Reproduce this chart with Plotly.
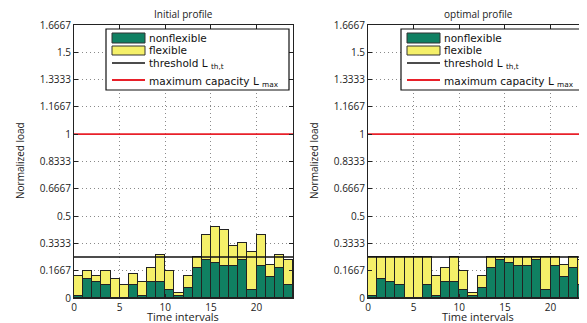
import plotly.graph_objects as go
from plotly.subplots import make_subplots

intervals = list(range(24))
nonflex = [0.014, 0.116, 0.098, 0.080, 0.0, 0.0, 0.080, 0.014, 0.098, 0.098, 0.049, 0.012,
           0.063, 0.182, 0.235, 0.214, 0.198, 0.198, 0.235, 0.049, 0.198, 0.131, 0.182, 0.082]
total_initial = [0.135, 0.165, 0.133, 0.165, 0.116, 0.082, 0.149, 0.098, 0.182, 0.265, 0.165, 0.033,
                 0.133, 0.25, 0.384, 0.433, 0.416, 0.316, 0.333, 0.282, 0.384, 0.200, 0.265, 0.233]
total_optimal = [0.25, 0.25, 0.25, 0.25, 0.25, 0.25, 0.25, 0.133, 0.182, 0.25, 0.165, 0.033,
                 0.133, 0.25, 0.25, 0.25, 0.25, 0.25, 0.25, 0.25, 0.25, 0.200, 0.25, 0.233]
flex_initial = [round(t - n, 4) for t, n in zip(total_initial, nonflex)]
flex_optimal = [round(t - n, 4) for t, n in zip(total_optimal, nonflex)]
threshold = 0.25
capacity = 1.0
ytick_vals = [0, 0.1667, 0.3333, 0.5, 0.6667, 0.8333, 1, 1.1667, 1.3333, 1.5, 1.6667]
ytick_text = ["0", "0.1667", "0.3333", "0.5", "0.6667", "0.8333", "1", "1.1667", "1.3333", "1.5", "1.6667"]
xtick_vals = [0, 5, 10, 15, 20]
titles = ["Initial profile", "optimal profile"]
legend_labels = ["nonflexible", "flexible", "threshold L <sub>th,t</sub>", "maximum capacity L <sub>max</sub>"]

GREEN = "rgb(16,128,98)"
YELLOW = "rgb(245,240,105)"
RED = "#e8202a"
FONT = "Open Sans"
LFONT = "DejaVu Sans"
OFF = 8  # page body margin offset
W, H = 587, 323
# desired screen plot area: x 74..587, y 25..298
ML, MT = 74 - OFF, 25 - OFF
MR = W - (587 - OFF)
MB = H - (298 - OFF)
PW, PH = W - ML - MR, H - MT - MB


def px(xs_):
    return (xs_ - OFF - ML) / PW


def py(ys_):
    return (H - MB - (ys_ - OFF)) / PH


fig = make_subplots(rows=1, cols=2, horizontal_spacing=0.1462)
xs = [i + 0.5 for i in intervals]
n = len(intervals)

for col, flex in [(1, flex_initial), (2, flex_optimal)]:
    fig.add_trace(go.Bar(x=xs, y=nonflex, width=1, name=legend_labels[0],
                         marker=dict(color=GREEN, line=dict(color="#222", width=1))), row=1, col=col)
    fig.add_trace(go.Bar(x=xs, y=flex, width=1, name=legend_labels[1],
                         marker=dict(color=YELLOW, line=dict(color="#222", width=1))), row=1, col=col)
    fig.add_trace(go.Scatter(x=[0, n], y=[threshold, threshold], mode="lines", name=legend_labels[2],
                             line=dict(color="#111", width=1.5)), row=1, col=col)
    fig.add_trace(go.Scatter(x=[0, n], y=[capacity, capacity], mode="lines", name=legend_labels[3],
                             line=dict(color=RED, width=1.8)), row=1, col=col)

axis_common = dict(showline=True, linecolor="#222", linewidth=1, mirror="ticks",
                   ticks="inside", ticklen=4, tickcolor="#222", showgrid=True,
                   gridcolor="#8a8a8a", griddash="1px,3px", gridwidth=1, zeroline=False,
                   automargin=False, tickfont=dict(family=FONT, size=10, color="#222"))

for col in (1, 2):
    fig.update_xaxes(range=[0, n], tickvals=xtick_vals, row=1, col=col, **axis_common)
    fig.update_yaxes(range=[0, 1.6667], tickvals=ytick_vals, ticktext=ytick_text,
                     row=1, col=col, **axis_common)

fig.update_xaxes(domain=[0, px(293)], row=1, col=1)
fig.update_xaxes(domain=[px(368), 1.0], row=1, col=2)

anns = []
shapes = []
for t, xc_title, xc_xlab, x_ylab, leg_left, leg_w in [
        (titles[0], 183, 183, 20, 106, 183),
        (titles[1], 478, 478, 314, 401, 181)]:
    anns.append(dict(text=t, x=px(xc_title), y=py(14), xref="paper", yref="paper",
                     xanchor="center", yanchor="middle",
                     showarrow=False, font=dict(family=FONT, size=10, color="#222")))
    anns.append(dict(text="Time intervals", x=px(xc_xlab), y=py(316.5), xref="paper", yref="paper",
                     xanchor="center", yanchor="middle",
                     showarrow=False, font=dict(family=FONT, size=11, color="#222")))
    anns.append(dict(text="Normalized load", x=px(x_ylab), y=py(161), xref="paper", yref="paper",
                     xanchor="center", yanchor="middle",
                     textangle=-90, showarrow=False,
                     font=dict(family=FONT, size=10, color="#222")))
    T = 29
    L = leg_left
    shapes.append(dict(type="rect", xref="paper", yref="paper", x0=px(L), x1=px(L + leg_w),
                       y0=py(T), y1=py(T + 61), fillcolor="white",
                       line=dict(color="#111", width=1.2), layer="above"))
    shapes.append(dict(type="rect", xref="paper", yref="paper", x0=px(L + 6), x1=px(L + 39),
                       y0=py(T + 4), y1=py(T + 14), fillcolor=GREEN,
                       line=dict(color="#333", width=1), layer="above"))
    shapes.append(dict(type="rect", xref="paper", yref="paper", x0=px(L + 6), x1=px(L + 39),
                       y0=py(T + 17), y1=py(T + 26), fillcolor=YELLOW,
                       line=dict(color="#333", width=1), layer="above"))
    shapes.append(dict(type="line", xref="paper", yref="paper", x0=px(L + 6), x1=px(L + 39),
                       y0=py(T + 34), y1=py(T + 34), line=dict(color="#111", width=1.5),
                       layer="above"))
    shapes.append(dict(type="line", xref="paper", yref="paper", x0=px(L + 6), x1=px(L + 39),
                       y0=py(T + 51), y1=py(T + 51), line=dict(color=RED, width=1.8),
                       layer="above"))
    for lab, yy in zip(legend_labels, [T + 9, T + 21, T + 35, T + 53]):
        anns.append(dict(text=lab, x=px(L + 41), y=py(yy), xref="paper", yref="paper",
                         xanchor="left", yanchor="middle", showarrow=False,
                         font=dict(family=LFONT, size=10.5, color="#111")))

fig.update_layout(
    width=W, height=H,
    margin=dict(l=ML, r=MR, t=MT, b=MB),
    barmode="stack", bargap=0,
    plot_bgcolor="white", paper_bgcolor="white",
    showlegend=False,
    annotations=anns, shapes=shapes,
)

fig.write_html("out.html")
